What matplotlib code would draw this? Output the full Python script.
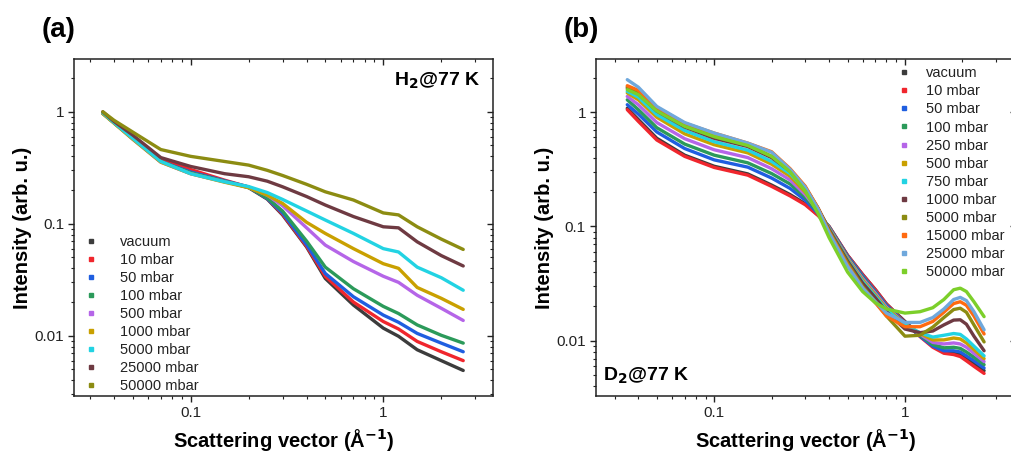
import numpy as np
import matplotlib
matplotlib.use("Agg")
from matplotlib import pyplot as plt
from matplotlib.lines import Line2D
from matplotlib.ticker import LogLocator, NullFormatter, FixedLocator, FixedFormatter

plt.rcParams['font.family'] = ['Liberation Sans', 'DejaVu Sans']

# ---------------- data, panel (a): H2 @ 77 K ----------------
q_a = [0.035, 0.04, 0.05, 0.07, 0.1, 0.15, 0.2, 0.25, 0.3, 0.4, 0.5, 0.7, 1.0, 1.2, 1.5, 2.0, 2.6]

labels_a = ['vacuum', '10 mbar', '50 mbar', '100 mbar', '500 mbar', '1000 mbar',
            '5000 mbar', '25000 mbar', '50000 mbar']
colors_a = ['#3c3c3c', '#f0262d', '#1f5ee0', '#2b9a5a', '#b565e8', '#c9a000',
            '#22d3e3', '#6e3a42', '#8c8c12']

a_vac   = [0.97, 0.80, 0.58, 0.36, 0.290, 0.240, 0.210, 0.166, 0.120, 0.062, 0.0325, 0.0188, 0.0117, 0.0099, 0.0075, 0.0060, 0.0049]
a_10    = [0.98, 0.81, 0.60, 0.38, 0.305, 0.245, 0.213, 0.168, 0.122, 0.063, 0.0340, 0.0200, 0.0134, 0.0115, 0.0089, 0.0072, 0.0060]
a_50    = [0.97, 0.80, 0.58, 0.36, 0.290, 0.242, 0.213, 0.168, 0.125, 0.065, 0.0360, 0.0223, 0.0153, 0.0132, 0.0105, 0.0086, 0.0072]
a_100   = [0.97, 0.80, 0.58, 0.36, 0.285, 0.240, 0.212, 0.170, 0.130, 0.070, 0.0410, 0.0263, 0.0183, 0.0158, 0.0125, 0.0101, 0.0086]
a_500   = [0.97, 0.80, 0.57, 0.355, 0.280, 0.237, 0.212, 0.180, 0.145, 0.092, 0.0645, 0.0460, 0.0340, 0.0300, 0.0230, 0.0176, 0.0137]
a_1000  = [0.96, 0.79, 0.57, 0.355, 0.280, 0.235, 0.210, 0.180, 0.152, 0.103, 0.0820, 0.0600, 0.0440, 0.0400, 0.0270, 0.0216, 0.0172]
a_5000  = [0.98, 0.80, 0.58, 0.36, 0.280, 0.237, 0.215, 0.190, 0.165, 0.130, 0.1080, 0.0820, 0.0600, 0.0560, 0.0410, 0.0330, 0.0255]
a_25000 = [1.00, 0.82, 0.62, 0.39, 0.325, 0.280, 0.263, 0.240, 0.214, 0.175, 0.1470, 0.1160, 0.0940, 0.0920, 0.0690, 0.0520, 0.0420]
a_50000 = [1.00, 0.84, 0.66, 0.46, 0.400, 0.360, 0.334, 0.300, 0.270, 0.225, 0.1930, 0.1630, 0.1250, 0.1200, 0.0940, 0.0730, 0.0590]

# ---------------- data, panel (b): D2 @ 77 K ----------------
q_b = [0.035, 0.04, 0.05, 0.07, 0.1, 0.15, 0.2, 0.25, 0.3, 0.35, 0.4, 0.5, 0.6, 0.7, 0.8,
       1.0, 1.2, 1.4, 1.6, 1.8, 1.95, 2.1, 2.3, 2.6]

labels_b = ['vacuum', '10 mbar', '50 mbar', '100 mbar', '250 mbar', '500 mbar', '750 mbar',
            '1000 mbar', '5000 mbar', '15000 mbar', '25000 mbar', '50000 mbar']
colors_b = ['#3c3c3c', '#f0262d', '#1f5ee0', '#2b9a5a', '#b565e8', '#c9a000', '#22d3e3',
            '#6e3a42', '#8c8c12', '#ff6a10', '#6fa8dc', '#7ccf2a']

b_vac   = [1.08, 0.86, 0.59, 0.42, 0.336, 0.288, 0.230, 0.190, 0.158, 0.126, 0.100, 0.056, 0.038, 0.028, 0.0210,
           0.0148, 0.0112, 0.0091, 0.0081, 0.0079, 0.0076, 0.0070, 0.0063, 0.0055]
b_10    = [1.05, 0.83, 0.57, 0.41, 0.328, 0.281, 0.224, 0.185, 0.155, 0.125, 0.100, 0.056, 0.038, 0.028, 0.0210,
           0.0145, 0.0109, 0.0088, 0.0078, 0.0076, 0.0073, 0.0067, 0.0060, 0.0052]
b_50    = [1.16, 0.96, 0.67, 0.48, 0.382, 0.330, 0.265, 0.215, 0.170, 0.130, 0.099, 0.055, 0.037, 0.027, 0.0205,
           0.0143, 0.0110, 0.0090, 0.0082, 0.0082, 0.0080, 0.0074, 0.0067, 0.0058]
b_100   = [1.28, 1.05, 0.73, 0.525, 0.420, 0.360, 0.290, 0.235, 0.180, 0.135, 0.098, 0.054, 0.036, 0.0265, 0.0200,
           0.0142, 0.0112, 0.0093, 0.0087, 0.0088, 0.0086, 0.0080, 0.0072, 0.0062]
b_250   = [1.37, 1.16, 0.81, 0.585, 0.468, 0.400, 0.320, 0.255, 0.190, 0.138, 0.097, 0.053, 0.035, 0.026, 0.0197,
           0.0141, 0.0114, 0.0097, 0.0094, 0.0096, 0.0094, 0.0088, 0.0078, 0.0066]
b_500   = [1.47, 1.28, 0.90, 0.645, 0.518, 0.440, 0.350, 0.275, 0.200, 0.140, 0.096, 0.052, 0.034, 0.0252, 0.0192,
           0.0140, 0.0116, 0.0102, 0.0102, 0.0106, 0.0104, 0.0096, 0.0084, 0.0070]
b_750   = [1.52, 1.35, 0.95, 0.69, 0.550, 0.465, 0.370, 0.290, 0.210, 0.143, 0.095, 0.051, 0.033, 0.0245, 0.0187,
           0.0138, 0.0118, 0.0108, 0.0112, 0.0116, 0.0114, 0.0104, 0.0090, 0.0074]
b_1000  = [1.62, 1.45, 1.02, 0.74, 0.590, 0.500, 0.400, 0.305, 0.220, 0.145, 0.094, 0.050, 0.032, 0.0238, 0.0180,
           0.0127, 0.0118, 0.0122, 0.0138, 0.0152, 0.0153, 0.0140, 0.0110, 0.0082]
b_5000  = [1.66, 1.48, 1.05, 0.76, 0.610, 0.515, 0.410, 0.310, 0.220, 0.144, 0.092, 0.048, 0.030, 0.0220, 0.0165,
           0.0110, 0.0112, 0.0132, 0.0160, 0.0188, 0.0193, 0.0178, 0.0138, 0.0098]
b_15000 = [1.70, 1.55, 1.10, 0.80, 0.655, 0.535, 0.450, 0.320, 0.225, 0.145, 0.090, 0.046, 0.029, 0.0215, 0.0165,
           0.0133, 0.0133, 0.0148, 0.0178, 0.0212, 0.0220, 0.0205, 0.0165, 0.0115]
b_25000 = [1.92, 1.65, 1.12, 0.81, 0.655, 0.535, 0.445, 0.315, 0.220, 0.142, 0.088, 0.045, 0.029, 0.0220, 0.0175,
           0.0145, 0.0145, 0.0160, 0.0190, 0.0230, 0.0240, 0.0225, 0.0180, 0.0125]
b_50000 = [1.57, 1.42, 1.02, 0.75, 0.610, 0.510, 0.410, 0.300, 0.205, 0.130, 0.080, 0.040, 0.027, 0.0215, 0.0190,
           0.0175, 0.0180, 0.0195, 0.0230, 0.0280, 0.0289, 0.0270, 0.0220, 0.0163]

series_a = [a_vac, a_10, a_50, a_100, a_500, a_1000, a_5000, a_25000, a_50000]
series_b = [b_vac, b_10, b_50, b_100, b_250, b_500, b_750, b_1000, b_5000, b_15000, b_25000, b_50000]

fig = plt.figure(figsize=(10.11, 4.57), dpi=100)

ax_a = fig.add_axes([0.0732, 0.1335, 0.4144, 0.7374])
ax_b = fig.add_axes([0.5892, 0.1335, 0.4157, 0.7374])


def style_axes(ax, xlim, ylim):
    ax.set_xscale('log')
    ax.set_yscale('log')
    ax.set_xlim(*xlim)
    ax.set_ylim(*ylim)
    ax.xaxis.set_major_locator(FixedLocator([0.1, 1]))
    ax.xaxis.set_major_formatter(FixedFormatter(['0.1', '1']))
    ax.yaxis.set_major_locator(FixedLocator([0.01, 0.1, 1]))
    ax.yaxis.set_major_formatter(FixedFormatter(['0.01', '0.1', '1']))
    for axis in (ax.xaxis, ax.yaxis):
        axis.set_minor_locator(LogLocator(base=10, subs=np.arange(2, 10)))
        axis.set_minor_formatter(NullFormatter())
    ax.tick_params(which='major', direction='out', length=4, width=1.0,
                   labelsize=11, colors='#222222', pad=3)
    ax.tick_params(which='minor', direction='out', length=2.5, width=0.8, colors='#222222')
    for sp in ax.spines.values():
        sp.set_linewidth(1.1)
        sp.set_color('#222222')
    # mirrored ticks, pointing inward, on top and right
    top = ax.secondary_xaxis('top')
    right = ax.secondary_yaxis('right')
    for sec, axis in ((top, top.xaxis), (right, right.yaxis)):
        axis.set_major_locator(FixedLocator(ax.get_xticks() if sec is top else ax.get_yticks()))
        axis.set_minor_locator(LogLocator(base=10, subs=np.arange(2, 10)))
        axis.set_major_formatter(NullFormatter())
        axis.set_minor_formatter(NullFormatter())
        sec.tick_params(which='major', direction='in', length=4, width=1.0, colors='#222222')
        sec.tick_params(which='minor', direction='in', length=2.5, width=0.8, colors='#222222')
        for sp in sec.spines.values():
            sp.set_visible(False)
    ax.set_xlabel('Scattering vector (Å$^{\\mathbf{-1}}$)', fontsize=14.5, fontweight='bold', labelpad=5)
    ax.set_ylabel('Intensity (arb. u.)', fontsize=14.5, fontweight='bold', labelpad=2)


for vals, c in zip(series_a, colors_a):
    ax_a.plot(q_a, vals, '-', color=c, lw=2.4, solid_capstyle='round', solid_joinstyle='round')
for vals, c in zip(series_b, colors_b):
    ax_b.plot(q_b, vals, '-', color=c, lw=2.4, solid_capstyle='round', solid_joinstyle='round')

style_axes(ax_a, (0.0248, 3.71), (0.0029, 2.96))
style_axes(ax_b, (0.0239, 3.82), (0.0033, 2.91))

h_a = [Line2D([], [], marker='s', ms=2.2, ls='none', color=c) for c in colors_a]
h_b = [Line2D([], [], marker='s', ms=2.2, ls='none', color=c) for c in colors_b]
ax_a.legend(h_a, labels_a, loc='upper left', bbox_to_anchor=(0.006, 0.5), frameon=False,
            fontsize=10.5, handlelength=1.0, handletextpad=1.5, labelspacing=0.28,
            borderpad=0.2, borderaxespad=0.3, labelcolor='#222222')
ax_b.legend(h_b, labels_b, loc='upper left', bbox_to_anchor=(0.7, 1.0), frameon=False,
            fontsize=10.5, handlelength=1.0, handletextpad=1.0, labelspacing=0.28,
            borderpad=0.2, borderaxespad=0.3, labelcolor='#222222')

ax_a.text(0.97, 0.965, 'H$_\\mathbf{2}$@77 K', transform=ax_a.transAxes, ha='right', va='top',
          fontsize=14, fontweight='bold')
ax_b.text(0.018, 0.03, 'D$_\\mathbf{2}$@77 K', transform=ax_b.transAxes, ha='left', va='bottom',
          fontsize=14, fontweight='bold')

fig.text(0.041, 0.935, '(a)', fontsize=20, fontweight='bold', va='center')
fig.text(0.557, 0.935, '(b)', fontsize=20, fontweight='bold', va='center')

plt.savefig('out.png', dpi=100)
plt.close()
